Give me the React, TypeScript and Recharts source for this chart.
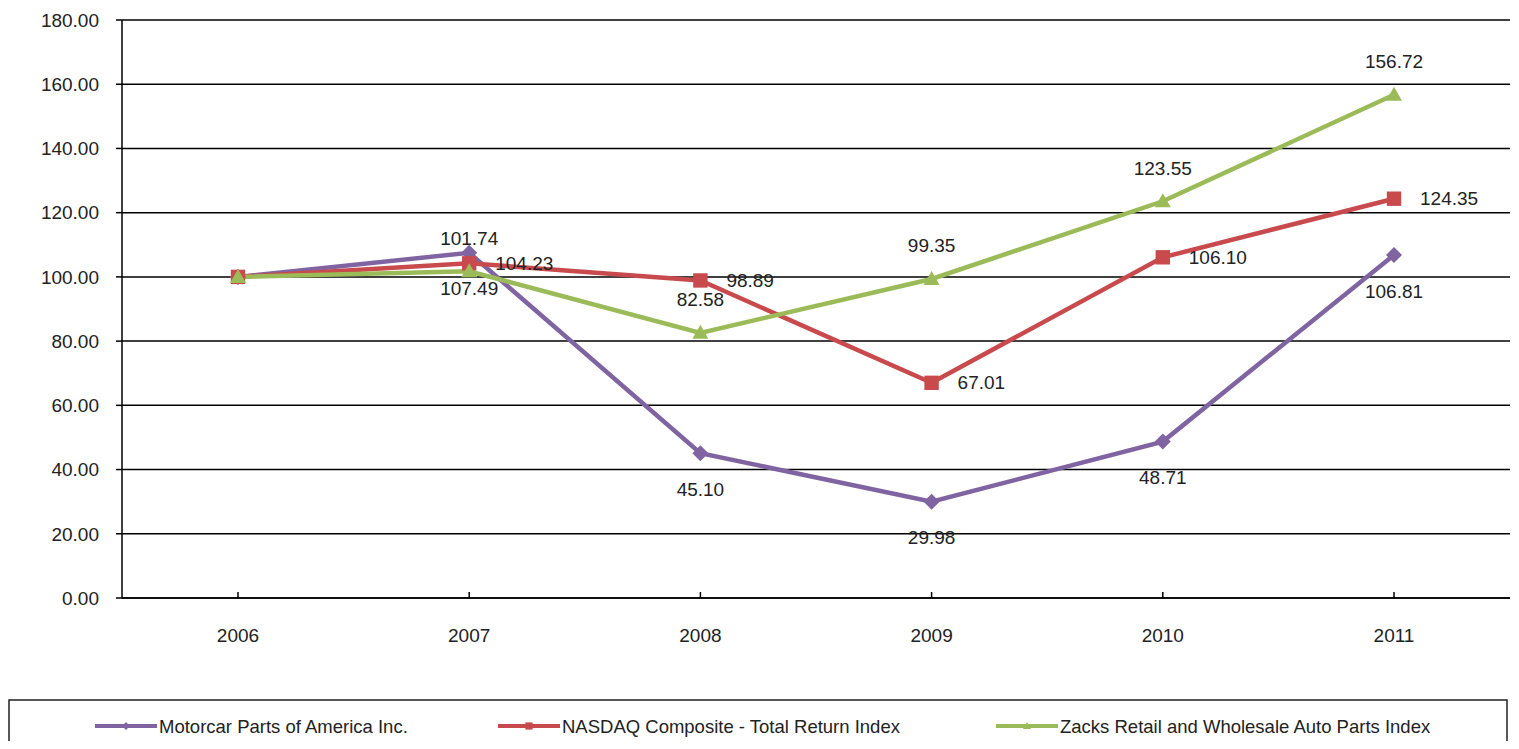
import React from 'react';
import { LineChart, Line, XAxis, YAxis, CartesianGrid, LabelList, Legend } from 'recharts';

const years = ['2006', '2007', '2008', '2009', '2010', '2011'];
const motorcar = [100, 107.49, 45.1, 29.98, 48.71, 106.81];
const nasdaq = [100, 104.23, 98.89, 67.01, 106.1, 124.35];
const zacks = [100, 101.74, 82.58, 99.35, 123.55, 156.72];
const yTicks = [0, 20, 40, 60, 80, 100, 120, 140, 160, 180];

const seriesInfo = [
  { key: 'motorcar', name: 'Motorcar Parts of America Inc.', color: '#8064A2', shape: 'diamond', label: 'below' },
  { key: 'nasdaq', name: 'NASDAQ Composite - Total Return Index', color: '#C94A4C', shape: 'square', label: 'right' },
  { key: 'zacks', name: 'Zacks Retail and Wholesale Auto Parts Index', color: '#9BBB59', shape: 'triangle', label: 'above' },
];

const data = years.map((y, i) => ({
  year: y,
  motorcar: motorcar[i],
  nasdaq: nasdaq[i],
  zacks: zacks[i],
}));

const FONT = '"Liberation Sans", Arial, sans-serif';

function Marker({ cx, cy, shape, color, r }: any) {
  if (cx == null || cy == null) return null;
  if (shape === 'diamond') {
    return <polygon points={`${cx},${cy - r} ${cx + r},${cy} ${cx},${cy + r} ${cx - r},${cy}`} fill={color} />;
  }
  if (shape === 'square') {
    const h = r * 0.9;
    return <rect x={cx - h} y={cy - h} width={h * 2} height={h * 2} fill={color} />;
  }
  return (
    <polygon
      points={`${cx},${cy - r} ${cx + r},${cy + r * 0.75} ${cx - r},${cy + r * 0.75}`}
      fill={color}
    />
  );
}

function makeDot(s: any) {
  return (props: any) => <Marker key={`${s.key}-${props.index}`} cx={props.cx} cy={props.cy} shape={s.shape} color={s.color} r={8} />;
}

function makeLabel(s: any) {
  return (props: any) => {
    const { x, y, value, index } = props;
    if (index === 0 || x == null) return null;
    let tx = x;
    let ty = y;
    let anchor: any = 'middle';
    if (s.label === 'above') ty = y - 33;
    else if (s.label === 'below') ty = y + 36;
    else {
      tx = x + 26;
      anchor = 'start';
    }
    return (
      <text
        key={`lbl-${s.key}-${index}`}
        x={tx}
        y={ty}
        textAnchor={anchor}
        dominantBaseline="central"
        fontFamily={FONT}
        fontSize={19}
        fill="#222"
      >
        {Number(value).toFixed(2)}
      </text>
    );
  };
}

function XTick(props: any) {
  const { x, y, payload } = props;
  return (
    <g>
      <line x1={x} x2={x} y1={y} y2={y - 6} stroke="#000" strokeWidth={1.5} />
      <text x={x} y={y + 37} textAnchor="middle" dominantBaseline="central" fontFamily={FONT} fontSize={19} fill="#222">
        {payload.value}
      </text>
    </g>
  );
}

const legendX = [95, 498, 996];
const LEG_LEFT = 8;
const LEG_W = 1500;

function LegendContent() {
  return (
    <svg width={LEG_W + 2} height={62} style={{ display: 'block', overflow: 'visible' }}>
      <rect x={1} y={1} width={LEG_W - 2} height={70} fill="#fff" stroke="#222" strokeWidth={1.5} />
      {seriesInfo.map((s, i) => {
        const x0 = legendX[i] - LEG_LEFT;
        const cy = 27;
        return (
          <g key={s.key}>
            <line x1={x0} x2={x0 + 62} y1={cy} y2={cy} stroke={s.color} strokeWidth={4} />
            <Marker cx={x0 + 31} cy={cy} shape={s.shape} color={s.color} r={4} />
            <text x={x0 + 64} y={cy} dominantBaseline="central" fontFamily={FONT} fontSize={18.5} fill="#222">
              {s.name}
            </text>
          </g>
        );
      })}
    </svg>
  );
}

export default function App() {
  return (
    <div style={{ margin: -8, width: 1519, height: 749, background: '#fff', overflow: 'hidden', position: 'relative' }}>
      <LineChart width={1519} height={749} data={data} margin={{ top: 20, right: 9, bottom: 111, left: 0 }}>
        <CartesianGrid vertical={false} stroke="#000" strokeWidth={1.5} />
        <XAxis
          dataKey="year"
          height={40}
          padding={{ left: 116, right: 116 }}
          axisLine={{ stroke: '#000', strokeWidth: 1.5 }}
          tickLine={false}
          tickSize={0}
          tickMargin={0}
          tick={<XTick />}
          interval={0}
        />
        <YAxis
          width={122}
          domain={[0, 180]}
          ticks={yTicks}
          interval={0}
          tickFormatter={(v: number) => v.toFixed(2)}
          axisLine={{ stroke: '#000', strokeWidth: 1.5 }}
          tickLine={{ stroke: '#000', strokeWidth: 1.5 }}
          tickSize={6}
          tickMargin={17}
          tick={{ fontFamily: FONT, fontSize: 19, fill: '#222' }}
        />
        <YAxis
          yAxisId="right"
          orientation="right"
          width={0}
          domain={[0, 180]}
          type="number"
          tick={false}
          tickLine={false}
          axisLine={{ stroke: '#555', strokeWidth: 1.5 }}
        />
        {seriesInfo.map((s) => (
          <Line
            key={s.key}
            type="linear"
            dataKey={s.key}
            name={s.name}
            stroke={s.color}
            strokeWidth={4.5}
            dot={makeDot(s)}
            activeDot={false}
            isAnimationActive={false}
          >
            <LabelList dataKey={s.key} content={makeLabel(s)} />
          </Line>
        ))}
        <Legend
          layout="horizontal"
          verticalAlign="middle"
          align="center"
          content={<LegendContent />}
          wrapperStyle={{ position: 'absolute', left: LEG_LEFT, top: 699, width: LEG_W + 2, height: 62 }}
        />
      </LineChart>
    </div>
  );
}
